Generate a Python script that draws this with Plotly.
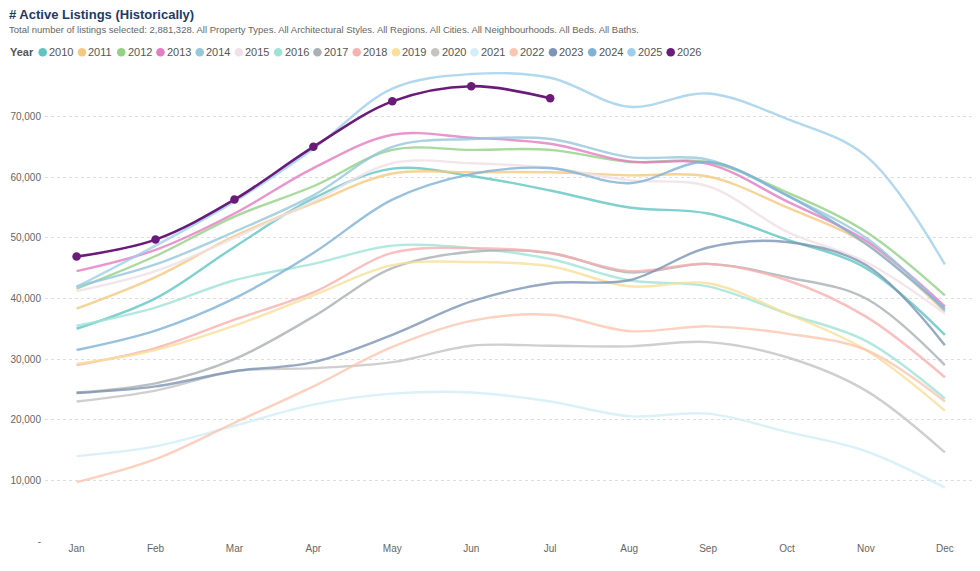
import plotly.graph_objects as go

months = ["Jan", "Feb", "Mar", "Apr", "May", "Jun", "Jul", "Aug", "Sep", "Oct", "Nov", "Dec"]

years = ["2010", "2011", "2012", "2013", "2014", "2015", "2016", "2017", "2018",
         "2019", "2020", "2021", "2022", "2023", "2024", "2025", "2026"]

colors = ["#5fc6c2", "#f5c97f", "#93d185", "#e57cc2", "#95c7dd", "#f0e0e7", "#9fe3d8",
          "#aab0b4", "#f9b0b0", "#f8e09a", "#c4c4c4", "#d2eef8", "#fcc6b0", "#7d95b5",
          "#7fb2d6", "#9dcfec", "#6a1b7a"]

y2010 = [35000, 40000, 48500, 56500, 61400, 60200, 57800, 55000, 54000, 49700, 45000, 34000]
y2011 = [38300, 43500, 50300, 55700, 60600, 60800, 60800, 60300, 60100, 55000, 49000, 37800]
y2012 = [41600, 47000, 53500, 58500, 64500, 64500, 64500, 62500, 62500, 57500, 51000, 40500]
y2013 = [44500, 48000, 54000, 61500, 67000, 66500, 65500, 62600, 62200, 56000, 49500, 38700]
y2014 = [42000, 45600, 51000, 57000, 65000, 66300, 66300, 63300, 62900, 57000, 50000, 38000]
y2015 = [41200, 44500, 50000, 56000, 62300, 62300, 61500, 59500, 58500, 51000, 46000, 37500]
y2016 = [35500, 38500, 43000, 45700, 48700, 48300, 46500, 43000, 42000, 37500, 33000, 23500]
y2017 = [24500, 26000, 30000, 37000, 45000, 47700, 47500, 44300, 45700, 43500, 40000, 29000]
y2018 = [29000, 31800, 36500, 41000, 47500, 48300, 47500, 44500, 45700, 43000, 37000, 27000]
y2019 = [29200, 31500, 35500, 40500, 45500, 46000, 45300, 42000, 42500, 37500, 31500, 21500]
y2020 = [23000, 24800, 28000, 28500, 29500, 32200, 32200, 32100, 32800, 30300, 24800, 14600]
y2021 = [14000, 15600, 19000, 22500, 24300, 24500, 23000, 20600, 21000, 18000, 14800, 8800]
y2022 = [9700, 13500, 19500, 25500, 32000, 36300, 37300, 34600, 35400, 34200, 31500, 23000]
y2023 = [24400, 25500, 28000, 29500, 34000, 39500, 42500, 43000, 48400, 49300, 45500, 32300]
y2024 = [31500, 34700, 40000, 47500, 56300, 60500, 61500, 59000, 62500, 57000, 49000, 38300]
y2025 = [41900, 48700, 56000, 64700, 74600, 77000, 76400, 71600, 73800, 69600, 63500, 45600]
y2026 = [46900, 49700, 56300, 65000, 72500, 75000, 73000]

series = [y2010, y2011, y2012, y2013, y2014, y2015, y2016, y2017, y2018,
          y2019, y2020, y2021, y2022, y2023, y2024, y2025, y2026]

# the page adds an 8px body margin, so the figure is drawn 8px smaller
OFF = 8
W, H = 980 - OFF, 571 - OFF
ML, MR, MT, MB = 37, 2, 60, 30
PW, PH = W - ML - MR, H - MT - MB


def px_x(px):
    # px given in page coordinates
    return (px - OFF - ML) / PW


def px_y(py):
    return (H - MB - (py - OFF)) / PH


fig = go.Figure()

for yr, col, vals in zip(years, colors, series):
    is_last = yr == "2026"
    fig.add_trace(go.Scatter(
        x=months[:len(vals)], y=vals, name=yr,
        mode="lines+markers" if is_last else "lines",
        line=dict(color=col, width=2.6 if is_last else 2.4, shape="spline", smoothing=1),
        marker=dict(size=8.5, color=col),
        opacity=1 if is_last else 0.8,
        showlegend=False,
        hovertemplate="%{x} " + yr + ": %{y:,}<extra></extra>",
    ))

# hand-made legend row: "Year" then a dot + label per year
shapes = []
annotations = [dict(
    text="<b>Year</b>", xref="paper", yref="paper", x=px_x(8), y=px_y(52.3),
    xanchor="left", yanchor="middle", showarrow=False,
    font=dict(size=11, color="#555555"))]
for i, (yr, col) in enumerate(zip(years, colors)):
    cx = 42.7 + i * 39.25
    shapes.append(dict(
        type="circle", xref="paper", yref="paper", xsizemode="pixel", ysizemode="pixel",
        xanchor=px_x(cx), yanchor=px_y(52.3), x0=-4.3, x1=4.3, y0=-4.3, y1=4.3,
        fillcolor=col, line=dict(width=0), layer="above"))
    annotations.append(dict(
        text=yr, xref="paper", yref="paper", x=px_x(cx + 4.5), y=px_y(52.3),
        xanchor="left", yanchor="middle", showarrow=False,
        font=dict(size=11, color="#555555")))

annotations.append(dict(
    text="Total number of listings selected: 2,881,328. All Property Types. All Architectural Styles. "
         "All Regions. All Cities. All Neighbourhoods. All Beds. All Baths.",
    xref="paper", yref="paper", x=px_x(7), y=px_y(29.5), xanchor="left", yanchor="middle",
    showarrow=False, font=dict(size=9.5, color="#666666")))

fig.update_layout(
    width=W, height=H,
    margin=dict(l=ML, r=MR, t=MT, b=MB, autoexpand=False),
    paper_bgcolor="white", plot_bgcolor="white",
    font=dict(family="Liberation Sans, Arial, sans-serif", size=11, color="#555555"),
    title=dict(text="<b># Active Listings (Historically)</b>", x=1 / W,
               xanchor="left", xref="container", y=1 - (14.5 - OFF) / H, yanchor="middle",
               font=dict(size=13, color="#1d3a6b")),
    showlegend=False,
    shapes=shapes,
    annotations=annotations,
)

fig.update_xaxes(type="category", categoryorder="array", categoryarray=months,
                 range=[-0.4, 11.42], showgrid=False, zeroline=False, showline=False,
                 ticks="", tickfont=dict(size=10, color="#666666"))
fig.update_yaxes(range=[0, 78000], tickvals=[0, 10000, 20000, 30000, 40000, 50000, 60000, 70000],
                 ticktext=["-", "10,000", "20,000", "30,000", "40,000", "50,000", "60,000", "70,000"],
                 showgrid=True, gridcolor="#dedede", griddash="dot", gridwidth=1,
                 zeroline=False, showline=False, ticklabelstandoff=3,
                 tickfont=dict(size=10, color="#666666"))

fig.write_html("out.html")
